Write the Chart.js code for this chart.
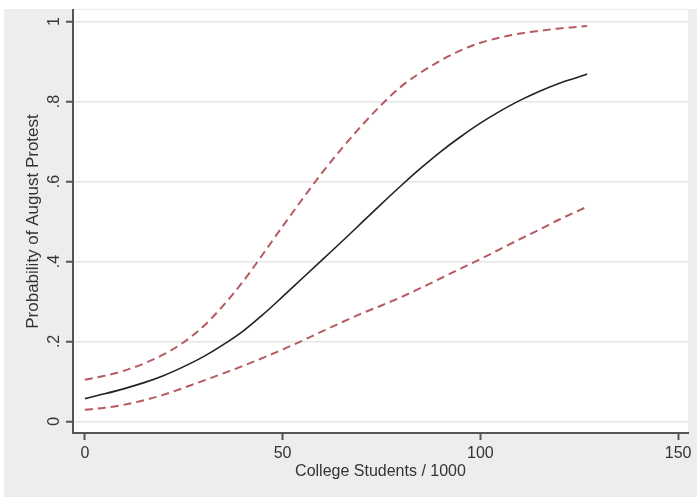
<!DOCTYPE html>
<html>
<head>
<meta charset="utf-8">
<script src="https://cdn.jsdelivr.net/npm/chart.js@4/dist/chart.umd.min.js"></script>
<style>
  html, body { margin: 0; padding: 0; background: #ffffff; }
  canvas { display: block; }
</style>
</head>
<body>
<canvas id="chart" width="697" height="497"></canvas>
<script>
// college students (thousands) and predicted probability with 95% bounds
const students = [0, 5, 10, 15, 20, 25, 30, 35, 40, 45, 50, 55, 60, 65, 70, 75, 80, 85, 90, 95, 100, 105, 110, 115, 120, 125, 127];
const predicted = [0.057, 0.069, 0.082, 0.097, 0.115, 0.137, 0.162, 0.192, 0.226, 0.267, 0.312, 0.358, 0.404, 0.45, 0.497, 0.544, 0.59, 0.634, 0.675, 0.712, 0.746, 0.776, 0.803, 0.826, 0.846, 0.862, 0.869];
const upperBound = [0.104, 0.114, 0.127, 0.145, 0.168, 0.198, 0.238, 0.29, 0.35, 0.418, 0.488, 0.556, 0.622, 0.683, 0.74, 0.792, 0.838, 0.873, 0.903, 0.928, 0.947, 0.96, 0.97, 0.977, 0.983, 0.987, 0.989];
const lowerBound = [0.029, 0.034, 0.042, 0.053, 0.067, 0.084, 0.102, 0.12, 0.139, 0.159, 0.18, 0.202, 0.225, 0.248, 0.27, 0.29, 0.311, 0.334, 0.358, 0.382, 0.406, 0.431, 0.456, 0.48, 0.505, 0.528, 0.537];

const xTicks = [0, 50, 100, 150];
const yTicks = [0, 0.2, 0.4, 0.6, 0.8, 1];
const yTickLabels = ["0", ".2", ".4", ".6", ".8", "1"];

const textColor = "#333333";
const axisColor = "#555555";
const ciColor = "#b55a60";

function toPoints(ys) {
    return students.map((x, i) => ({ x: x, y: ys[i] }));
}

// stata-like gray frame with white plot region
const backgroundPlugin = {
    id: "background",
    beforeDraw(chart) {
        const ctx = chart.ctx;
        const area = chart.chartArea;
        ctx.save();
        ctx.fillStyle = "#ffffff";
        ctx.fillRect(0, 0, chart.width, chart.height);
        ctx.fillStyle = "#ededed";
        ctx.fillRect(4, 9, chart.width - 4, chart.height - 9);
        ctx.fillStyle = "#ffffff";
        ctx.fillRect(area.left, area.top, area.right - area.left, area.bottom - area.top);
        ctx.restore();
    }
};

// rotated y tick labels (chart.js does not rotate vertical axis labels)
const yLabelPlugin = {
    id: "yLabels",
    afterDraw(chart) {
        const ctx = chart.ctx;
        const scale = chart.scales.y;
        ctx.save();
        ctx.fillStyle = textColor;
        ctx.font = "16px 'Liberation Sans', Arial, sans-serif";
        ctx.textAlign = "center";
        ctx.textBaseline = "middle";
        yTicks.forEach((v, i) => {
            const py = scale.getPixelForValue(v);
            ctx.save();
            ctx.translate(55, py);
            ctx.rotate(-Math.PI / 2);
            ctx.fillText(yTickLabels[i], 0, 0);
            ctx.restore();
        });
        ctx.restore();
    }
};

const ctx = document.getElementById("chart").getContext("2d");
new Chart(ctx, {
    type: "line",
    data: {
        datasets: [
            {
                label: "upper",
                data: toPoints(upperBound),
                borderColor: ciColor,
                borderWidth: 2,
                borderDash: [8, 5],
                pointRadius: 0,
                cubicInterpolationMode: "monotone"
            },
            {
                label: "lower",
                data: toPoints(lowerBound),
                borderColor: ciColor,
                borderWidth: 2,
                borderDash: [8, 5],
                pointRadius: 0,
                cubicInterpolationMode: "monotone"
            },
            {
                label: "predicted",
                data: toPoints(predicted),
                borderColor: "#222222",
                borderWidth: 1.6,
                pointRadius: 0,
                cubicInterpolationMode: "monotone"
            }
        ]
    },
    options: {
        responsive: false,
        animation: false,
        layout: {
            padding: { top: 10, right: 9, left: 0, bottom: 0 }
        },
        plugins: {
            legend: { display: false },
            tooltip: { enabled: false }
        },
        scales: {
            x: {
                type: "linear",
                min: -3,
                max: 152.5,
                afterBuildTicks: (scale) => {
                    scale.ticks = xTicks.map((v) => ({ value: v }));
                },
                afterFit: (scale) => {
                    scale.height = 64;
                },
                grid: {
                    drawOnChartArea: false,
                    drawTicks: true,
                    tickLength: 7,
                    tickColor: axisColor,
                    tickWidth: 2
                },
                border: { color: axisColor, width: 2 },
                ticks: {
                    color: textColor,
                    padding: 4,
                    maxRotation: 0,
                    font: { size: 16, family: "'Liberation Sans', Arial, sans-serif" }
                },
                title: {
                    display: true,
                    text: "College Students / 1000",
                    color: textColor,
                    padding: { top: 0, bottom: 16 },
                    font: { size: 16, family: "'Liberation Sans', Arial, sans-serif" }
                }
            },
            y: {
                type: "linear",
                min: -0.029,
                max: 1.029,
                afterBuildTicks: (scale) => {
                    scale.ticks = yTicks.map((v) => ({ value: v }));
                },
                afterFit: (scale) => {
                    scale.width = 73;
                },
                grid: {
                    color: "#e6e6e6",
                    lineWidth: 1.5,
                    drawTicks: true,
                    tickLength: 7,
                    tickColor: axisColor,
                    tickWidth: 2
                },
                border: { color: axisColor, width: 2 },
                ticks: { display: false },
                title: {
                    display: true,
                    text: "Probability of August Protest",
                    color: textColor,
                    padding: { top: 23, bottom: 0 },
                    font: { size: 17, family: "'Liberation Sans', Arial, sans-serif" }
                }
            }
        }
    },
    plugins: [backgroundPlugin, yLabelPlugin]
});
</script>
</body>
</html>
